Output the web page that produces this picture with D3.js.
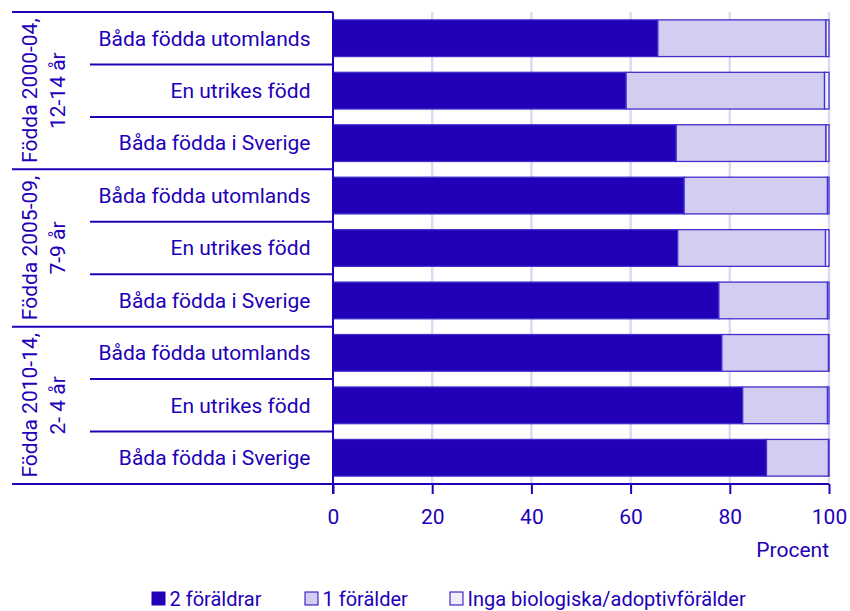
<!DOCTYPE html>
<html>
<head>
<meta charset="utf-8">
<script src="https://cdn.jsdelivr.net/npm/d3@7"></script>
<style>
	body { margin: 0; background: #fff; }
	svg text { font-family: Roboto, "Noto Sans", sans-serif; fill: #2200b8; }
</style>
</head>
<body>
<div class="chart"></div>
<script>
	// grupper (ålder) och rader, uppifrån och ned
	var groupLabels = [['Födda 2000-04,', '12-14 år'], ['Födda 2005-09,', '7-9 år'], ['Födda 2010-14,', '2- 4 år']];
	var rowLabels = ['Båda födda utomlands', 'En utrikes född', 'Båda födda i Sverige'];
	var seriesNames = ['2 föräldrar', '1 förälder', 'Inga biologiska/adoptivförälder'];
	var twoParents = [65.5, 59.1, 69.2, 70.8, 69.5, 77.8, 78.4, 82.6, 87.4];
	var oneParent = [33.9, 40.0, 30.2, 28.9, 29.8, 21.9, 21.5, 17.1, 12.5];
	var noParent = [0.6, 0.9, 0.6, 0.3, 0.7, 0.3, 0.1, 0.3, 0.1];
	var xTicks = [0, 20, 40, 60, 80, 100];

	var fills = ['#2200b8', '#d2cdf1', '#eeeefc'];
	var ink = '#2200b8';

	var rows = [];
	groupLabels.forEach(function(g, gi){
		rowLabels.forEach(function(r, ri){
			var i = gi * 3 + ri;
			rows.push({id: i, group: gi, label: r, s0: twoParents[i], s1: oneParent[i], s2: noParent[i]});
		});
	});

	var width = 850, height = 611;
	var plot = {left: 333, right: 829, top: 12, bottom: 484};
	var labelLeft = 12, rowLineLeft = 90;

	var svg = d3.select('.chart').append('svg')
		.attr('width', width)
		.attr('height', height);

	var x = d3.scaleLinear().domain([0, 100]).range([plot.left, plot.right]);
	var y = d3.scaleBand()
		.domain(rows.map(function(d){ return d.id; }))
		.range([plot.top, plot.bottom])
		.paddingInner(0.3)
		.paddingOuter(0.15);
	var step = y.step();

	// stödlinjer
	svg.append('g').selectAll('line')
		.data(xTicks.slice(1))
		.enter().append('line')
		.attr('x1', function(d){ return x(d); })
		.attr('x2', function(d){ return x(d); })
		.attr('y1', plot.top)
		.attr('y2', plot.bottom)
		.attr('stroke', '#dcdaf3')
		.attr('stroke-width', 2.5);

	var stack = d3.stack().keys(['s0', 's1', 's2']);
	var layers = stack(rows);

	svg.append('g').selectAll('g')
		.data(layers)
		.enter().append('g')
		.attr('fill', function(d, i){ return fills[i]; })
		.selectAll('rect')
		.data(function(d){ return d; })
		.enter().append('rect')
		.attr('x', function(d){ return x(d[0]); })
		.attr('y', function(d){ return y(d.data.id); })
		.attr('width', function(d){ return x(d[1]) - x(d[0]); })
		.attr('height', y.bandwidth())
		.attr('stroke', '#4030cc')
		.attr('stroke-width', 1.3);

	// x-axel
	var axis = svg.append('g')
		.attr('transform', 'translate(0,' + plot.bottom + ')')
		.call(d3.axisBottom(x).tickValues(xTicks).tickSize(10).tickPadding(15));
	axis.select('.domain').remove();
	axis.selectAll('.tick line').attr('stroke', ink).attr('stroke-width', 2);
	axis.selectAll('.tick text').attr('font-size', '21px').attr('fill', ink);

	svg.append('line')
		.attr('x1', labelLeft).attr('x2', plot.right)
		.attr('y1', plot.bottom).attr('y2', plot.bottom)
		.attr('stroke', ink).attr('stroke-width', 2);

	svg.append('line')
		.attr('x1', plot.left).attr('x2', plot.left)
		.attr('y1', plot.top).attr('y2', plot.bottom + 10)
		.attr('stroke', ink).attr('stroke-width', 2);

	svg.append('text')
		.attr('x', plot.right)
		.attr('y', 557)
		.attr('text-anchor', 'end')
		.attr('font-size', '21px')
		.text('Procent');

	// kategorilinjer i etikettområdet
	var sepLines = svg.append('g').attr('stroke', ink).attr('stroke-width', 2);
	rows.forEach(function(d, i){
		var yy = plot.top + step * i;
		if(i % 3 === 0){
			sepLines.append('line').attr('x1', labelLeft).attr('x2', plot.left).attr('y1', yy).attr('y2', yy);
		}else{
			sepLines.append('line').attr('x1', rowLineLeft).attr('x2', plot.left).attr('y1', yy).attr('y2', yy);
		}
	});

	svg.append('g').selectAll('text')
		.data(rows)
		.enter().append('text')
		.attr('x', 310.5)
		.attr('y', function(d){ return plot.top + step * d.id + step / 2; })
		.attr('dy', '0.35em')
		.attr('text-anchor', 'end')
		.attr('font-size', '21px')
		.text(function(d){ return d.label; });

	groupLabels.forEach(function(lines, gi){
		var cy = plot.top + step * (gi * 3 + 1.5);
		var t = svg.append('text')
			.attr('transform', 'translate(37,' + cy + ') rotate(-90)')
			.attr('text-anchor', 'middle')
			.attr('font-size', '21px');
		lines.forEach(function(l, li){
			t.append('tspan').attr('x', 0).attr('y', li * 28).text(l);
		});
	});

	// legend
	var legendX = [152, 305, 450];
	var legend = svg.append('g').selectAll('g')
		.data(seriesNames)
		.enter().append('g')
		.attr('transform', function(d, i){ return 'translate(' + legendX[i] + ',592)'; });
	legend.append('rect')
		.attr('width', 13).attr('height', 13)
		.attr('fill', function(d, i){ return fills[i]; })
		.attr('stroke', ink).attr('stroke-width', 1);
	legend.append('text')
		.attr('x', 17.5).attr('y', 13.5)
		.attr('font-size', '20px')
		.text(function(d){ return d; });
</script>
</body>
</html>
